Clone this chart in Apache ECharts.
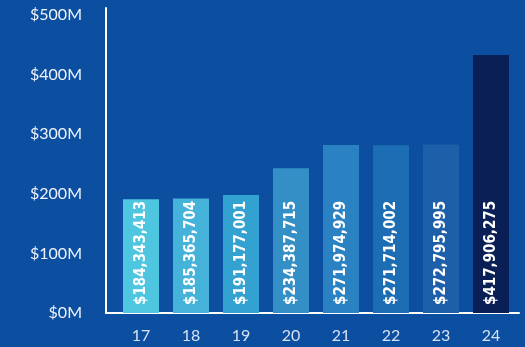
<!DOCTYPE html>
<html>
<head>
<meta charset="utf-8">
<script src="https://cdn.jsdelivr.net/npm/echarts@6/dist/echarts.min.js"></script>
<style>
  html, body { margin: 0; padding: 0; background: #0c4ea0; }
  #main { width: 525px; height: 347px; }
</style>
</head>
<body>
<div id="main"></div>
<script>
var years = ['17', '18', '19', '20', '21', '22', '23', '24'];
var amounts = [184343413, 185365704, 191177001, 234387715, 271974929, 271714002, 272795995, 417906275];
var barColors = ['#4ec6e0', '#45b2d9', '#34a2d0', '#338fc6', '#2a82c2', '#1c6db4', '#1d5fa8', '#0a1f55'];
var yTicks = [0, 100, 200, 300, 400, 500];

function money(v) {
    return '$' + v.toString().replace(/\B(?=(\d{3})+(?!\d))/g, ',');
}

var myChart = echarts.init(document.getElementById('main'));

var option = {
    backgroundColor: '#0c4ea0',
    grid: [
        // bars
        { left: 116, width: 400, top: 8, bottom: 34 },
        // axis frame
        { left: 106, width: 413, top: 8, bottom: 34 }
    ],
    xAxis: [{
        type: 'category',
        gridIndex: 0,
        data: years,
        axisLine: { show: false },
        axisTick: { show: false },
        axisLabel: {
            color: '#d6e2f3',
            fontSize: 16,
            fontFamily: 'Lato',
            margin: 15
        }
    }, {
        type: 'value',
        gridIndex: 1,
        min: 0,
        max: 1,
        axisLine: { show: true, lineStyle: { color: '#ffffff', width: 2 } },
        axisTick: { show: false },
        axisLabel: { show: false },
        splitLine: { show: false }
    }],
    yAxis: [{
        type: 'value',
        gridIndex: 0,
        min: 0,
        max: 494e6,
        show: false
    }, {
        type: 'value',
        gridIndex: 1,
        min: 0,
        max: 512,
        interval: 100,
        axisLine: { show: true, lineStyle: { color: '#ffffff', width: 2 } },
        axisTick: { show: false },
        splitLine: { show: false },
        axisLabel: {
            color: '#eef3fb',
            fontSize: 16,
            fontFamily: 'Lato',
            margin: 24,
            formatter: function (v) {
                return yTicks.indexOf(v) >= 0 ? '$' + v + 'M' : '';
            }
        }
    }],
    series: [{
        type: 'bar',
        xAxisIndex: 0,
        yAxisIndex: 0,
        barWidth: 36,
        data: amounts.map(function (v, i) {
            return { value: v, itemStyle: { color: barColors[i] } };
        }),
        label: {
            show: true,
            position: 'insideBottom',
            rotate: 90,
            align: 'left',
            verticalAlign: 'middle',
            distance: 8,
            color: '#ffffff',
            fontSize: 15,
            fontWeight: 'bold',
            fontFamily: 'DejaVu Sans Condensed',
            formatter: function (p) { return money(p.value); }
        }
    }]
};

myChart.setOption(option);
</script>
</body>
</html>
